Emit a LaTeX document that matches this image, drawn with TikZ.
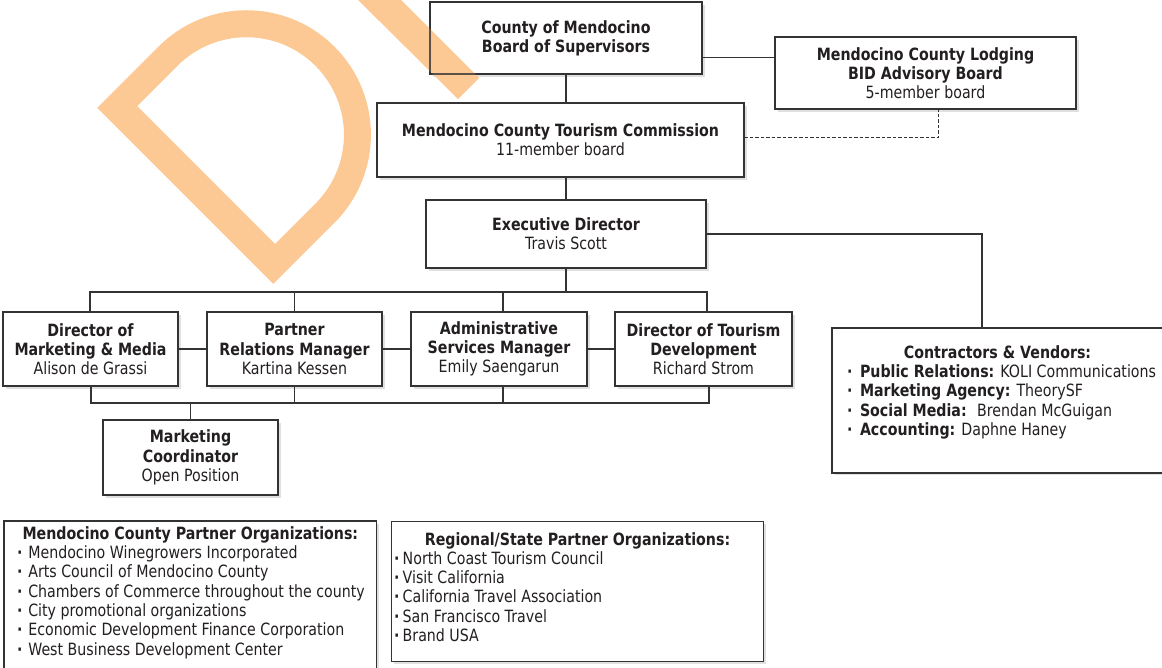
\documentclass[tikz,border=0pt]{standalone}
\usepackage{fontspec}
\setmainfont{DejaVu Sans}[FakeStretch=0.84]
\usetikzlibrary{shadows}
\definecolor{ink}{HTML}{231F20}
\definecolor{rulegray}{HTML}{333333}
\definecolor{draftorange}{HTML}{FCC995}
% bullet, heading and item lines for the list boxes
\newcommand\listdot[1]{\makebox[#1][l]{\hspace{1pt}\textbf{·}}}
\newcommand\listhead[2]{\makebox[#1][c]{\textbf{#2}}}
\newcommand\listline[3]{\makebox[#1][l]{\listdot{#2}#3}}

\begin{document}
\begin{tikzpicture}[x=1pt,y=-1pt,
  every node/.style={font=\fontsize{16.9}{19.3}\selectfont, text=ink},
  box/.style={draw=rulegray, line width=1.4pt, fill=white, inner sep=0pt, outer sep=0pt, align=center,
    drop shadow={shadow xshift=2.5pt, shadow yshift=-2.5pt, fill=black, opacity=0.12}},
  listbox/.style={box, anchor=north west, align=left},
  link/.style={draw=rulegray, line width=1.1pt},
  dashlink/.style={link, line width=1pt, dash pattern=on 3.5pt off 2pt}]

\useasboundingbox (0,0) rectangle (1162,667);
\clip (0,0) rectangle (1162,667);

% ---- boards and commission
\node[box, minimum width=272pt, minimum height=72pt] (county) at (566,38)
  {\textbf{County of Mendocino}\\\textbf{Board of Supervisors}};
\node[box, minimum width=301pt, minimum height=72pt] (bid) at (925.5,73)
  {\textbf{Mendocino County Lodging}\\\textbf{BID Advisory Board}\\5-member board};
\node[box, minimum width=367pt, minimum height=74pt] (tourism) at (560.5,140)
  {\textbf{Mendocino County Tourism Commission}\\11-member board};
\node[box, minimum width=280pt, minimum height=68pt] (exec) at (566,234)
  {\textbf{Executive Director}\\Travis Scott};

% ---- staff
\node[box, minimum width=175pt, minimum height=74pt] (dm) at (90.5,349)
  {\textbf{Director of}\\\textbf{Marketing \& Media}\\Alison de Grassi};
\node[box, minimum width=175pt, minimum height=74pt] (pr) at (294.5,349)
  {\textbf{Partner}\\\textbf{Relations Manager}\\Kartina Kessen};
\node[box, minimum width=176pt, minimum height=74pt] (as) at (499,349)
  {\textbf{Administrative}\\\textbf{Services Manager}\\Emily Saengarun};
\node[box, minimum width=177pt, minimum height=74pt] (dt) at (703.5,349)
  {\textbf{Director of Tourism}\\\textbf{Development}\\Richard Strom};
\node[box, minimum width=175pt, minimum height=75pt] (mc) at (190.5,457.5)
  {\textbf{Marketing}\\\textbf{Coordinator}\\Open Position};

% ---- contractors and partner lists
\node[listbox, inner xsep=14.2pt, inner ysep=17.5pt] (cont) at (832,328) {%
  \listhead{302.6pt}{Contractors \& Vendors:}\\
  \listline{302.6pt}{13.8pt}{\textbf{Public Relations:} KOLI Communications}\\
  \listline{302.6pt}{13.8pt}{\textbf{Marketing Agency:} TheorySF}\\
  \listline{302.6pt}{13.8pt}{\textbf{Social Media:}~ Brendan McGuigan}\\
  \listline{302.6pt}{13.8pt}{\textbf{Accounting:} Daphne Haney\rule[-19.9pt]{0pt}{0pt}}};

\node[listbox, inner xsep=12.2pt, inner ysep=5.5pt] (localorgs) at (4,521) {%
  \listhead{348.3pt}{Mendocino County Partner Organizations:}\\
  \listline{348.3pt}{12.1pt}{Mendocino Winegrowers Incorporated}\\
  \listline{348.3pt}{12.1pt}{Arts Council of Mendocino County}\\
  \listline{348.3pt}{12.1pt}{Chambers of Commerce throughout the county}\\
  \listline{348.3pt}{12.1pt}{City promotional organizations}\\
  \listline{348.3pt}{12.1pt}{Economic Development Finance Corporation}\\
  \listline{348.3pt}{12.1pt}{West Business Development Center\rule[-30pt]{0pt}{0pt}}};

\node[listbox, inner xsep=1.5pt, inner ysep=10.5pt] (stateorgs) at (391.7,521.7) {%
  \listhead{368.6pt}{Regional/State Partner Organizations:}\\
  \listline{368.6pt}{9.5pt}{North Coast Tourism Council}\\
  \listline{368.6pt}{9.5pt}{Visit California}\\
  \listline{368.6pt}{9.5pt}{California Travel Association}\\
  \listline{368.6pt}{9.5pt}{San Francisco Travel}\\
  \listline{368.6pt}{9.5pt}{Brand USA\rule[-9.5pt]{0pt}{0pt}}};

% ---- reporting lines
\coordinate (cbl) at (702,57.3);
\draw[link] (cbl) -- (cbl -| bid.west);
\draw[link] (county.south) -- (county.south |- tourism.north);
\draw[link] (exec.north |- tourism.south) -- (exec.north);
\coordinate (dsh) at (938,137.5);
\draw[dashlink] (tourism.east |- dsh) -- (dsh) -- (dsh |- bid.south);

\coordinate (topbusL) at (90,292);
\coordinate (topbusR) at (707,292);
\draw[link] (exec.south) -- (exec.south |- topbusL);
\draw[link] (dm.north -| topbusL) |- (topbusR) -- (topbusR |- dt.north);
\draw[link] (pr.north |- topbusL) -- (pr.north);
\draw[link] ([xshift=4pt]as.north |- topbusL) -- ([xshift=4pt]as.north);

\draw[link] (dm.east) -- (pr.west);
\draw[link] (pr.east) -- (as.west);
\draw[link] (as.east) -- (dt.west);

\coordinate (botbusL) at (91,403);
\coordinate (botbusR) at (709,403);
\draw[link] (dm.south -| botbusL) |- (botbusR) -- (botbusR |- dt.south);
\draw[link] (pr.south) -- (pr.south |- botbusL);
\draw[link] ([xshift=4pt]as.south) -- ([xshift=4pt]as.south |- botbusL);
\draw[link] (mc.north |- botbusL) -- (mc.north);

\coordinate (cv) at (982,234);
\draw[link] (exec.east) -- (exec.east -| cv) -- (cv |- cont.north);

% ---- DRAFT stamp letters
\fill[draftorange, even odd rule]
  (97.2,107.8) -- (158.4,46.7) arc[start angle=-135, end angle=45, radius=124.5]
  -- (273.3,283.9) -- cycle
  (137.2,106.1) -- (177.5,65.8) arc[start angle=-135, end angle=45, radius=97.5]
  -- (275.1,243.9) -- cycle;
\fill[draftorange] (353,-5) -- (458,99) -- (479,78) -- (396,-5) -- cycle;
\draw[rulegray, line width=1.4pt, opacity=0.8] (county.north west) rectangle (county.south east);
\end{tikzpicture}
\end{document}
